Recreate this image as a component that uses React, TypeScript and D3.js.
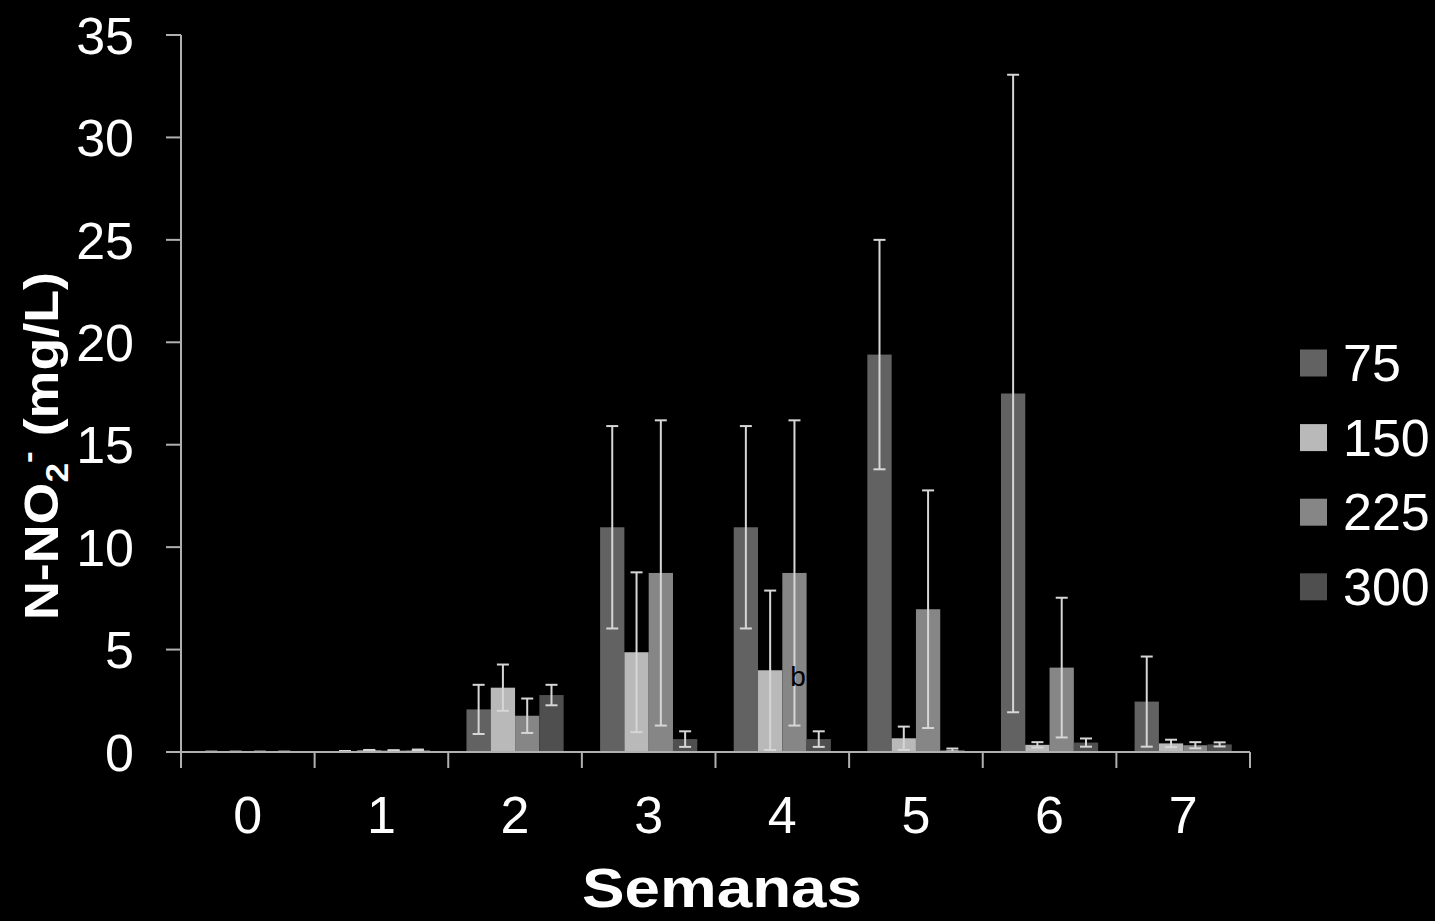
import { useEffect, useRef } from "react";
import * as d3 from "d3";

// weeks on the x axis
const weeks = ["0", "1", "2", "3", "4", "5", "6", "7"];
// series (dose) names and colours
const seriesNames = ["75", "150", "225", "300"];
const seriesColors = ["#626262", "#b9b9b9", "#868686", "#4f4f4f"];

// N-NO2- means (mg/L) per week, one array per series
const mean75 = [0.01, 0.04, 2.08, 10.97, 10.97, 19.4, 17.5, 2.46];
const mean150 = [0.01, 0.08, 3.14, 4.87, 3.99, 0.67, 0.35, 0.42];
const mean225 = [0.01, 0.07, 1.77, 8.74, 8.74, 6.97, 4.12, 0.33];
const mean300 = [0.01, 0.1, 2.78, 0.63, 0.63, 0.1, 0.46, 0.37];

// error (+/-) per week
const err75 = [0.005, 0.01, 1.2, 4.94, 4.94, 5.6, 15.56, 2.2];
const err150 = [0.005, 0.02, 1.13, 3.9, 3.89, 0.57, 0.13, 0.18];
const err225 = [0.005, 0.02, 0.84, 7.45, 7.45, 5.8, 3.41, 0.15];
const err300 = [0.005, 0.02, 0.5, 0.38, 0.38, 0.07, 0.2, 0.1];

const yTicks = [0, 5, 10, 15, 20, 25, 30, 35];

// letter annotation on a bar
const annotations = [{ week: "4", series: "225", text: "b" }];

const App = () => {
    const ref = useRef<SVGSVGElement | null>(null);

    useEffect(() => {
        document.body.style.margin = "0";
        document.body.style.background = "#000";

        const means = [mean75, mean150, mean225, mean300];
        const errs = [err75, err150, err225, err300];

        const svg = d3.select(ref.current);
        svg.selectAll("*").remove();

        const font = "'Liberation Sans', Arial, sans-serif";
        const axisColor = "#b0b0b0";
        const errColor = "#d6d6d6";

        const left = 181;
        const right = 1250;
        const top = 35;
        const bottom = 752;

        const x0 = d3.scaleBand().domain(weeks).range([left, right]).padding(0);
        const bw = x0.bandwidth() / 5.5; // excel gap width 150%
        const x1 = d3.scaleBand().domain(seriesNames).range([0.75 * bw, 4.75 * bw]).padding(0);
        const y = d3.scaleLinear().domain([0, 35]).range([bottom, top]);

        // bars
        const data = weeks.flatMap((w, i) =>
            seriesNames.map((s, j) => ({ week: w, series: s, value: means[j][i], err: errs[j][i], color: seriesColors[j] }))
        );

        svg.append("g")
            .selectAll("rect")
            .data(data)
            .enter().append("rect")
            .attr("x", d => (x0(d.week) as number) + (x1(d.series) as number))
            .attr("y", d => y(d.value))
            .attr("width", x1.bandwidth())
            .attr("height", d => y(0) - y(d.value))
            .attr("fill", d => d.color);

        // error bars
        const eb = svg.append("g")
            .selectAll("g")
            .data(data)
            .enter().append("g")
            .attr("stroke", errColor)
            .attr("stroke-width", 2);
        const cx = (d: any) => (x0(d.week) as number) + (x1(d.series) as number) + x1.bandwidth() / 2;
        eb.append("line")
            .attr("x1", cx).attr("x2", cx)
            .attr("y1", d => y(d.value + d.err))
            .attr("y2", d => y(Math.max(0, d.value - d.err)));
        eb.append("line")
            .attr("x1", d => cx(d) - 6).attr("x2", d => cx(d) + 6)
            .attr("y1", d => y(d.value + d.err)).attr("y2", d => y(d.value + d.err));
        eb.append("line")
            .attr("x1", d => cx(d) - 6).attr("x2", d => cx(d) + 6)
            .attr("y1", d => y(Math.max(0, d.value - d.err))).attr("y2", d => y(Math.max(0, d.value - d.err)));

        // y axis
        const yAxis = svg.append("g");
        yAxis.append("line")
            .attr("x1", left).attr("x2", left)
            .attr("y1", top).attr("y2", bottom)
            .attr("stroke", axisColor).attr("stroke-width", 2);
        yAxis.selectAll(".ytick")
            .data(yTicks)
            .enter().append("line")
            .attr("x1", left - 15).attr("x2", left)
            .attr("y1", d => y(d)).attr("y2", d => y(d))
            .attr("stroke", axisColor).attr("stroke-width", 2);
        yAxis.selectAll(".ylab")
            .data(yTicks)
            .enter().append("text")
            .attr("x", 134)
            .attr("y", d => y(d))
            .attr("dy", "0.36em")
            .attr("text-anchor", "end")
            .attr("fill", "#fff")
            .attr("font-family", font)
            .attr("font-size", "52px")
            .text(d => d);

        // x axis
        const xAxis = svg.append("g");
        xAxis.append("line")
            .attr("x1", left).attr("x2", right)
            .attr("y1", bottom).attr("y2", bottom)
            .attr("stroke", axisColor).attr("stroke-width", 2);
        const bounds = weeks.map(w => x0(w) as number).concat([right]);
        xAxis.selectAll(".xtick")
            .data(bounds)
            .enter().append("line")
            .attr("x1", d => d).attr("x2", d => d)
            .attr("y1", bottom).attr("y2", bottom + 16)
            .attr("stroke", axisColor).attr("stroke-width", 2);
        xAxis.selectAll(".xlab")
            .data(weeks)
            .enter().append("text")
            .attr("x", d => (x0(d) as number) + x0.bandwidth() / 2)
            .attr("y", 833)
            .attr("text-anchor", "middle")
            .attr("fill", "#fff")
            .attr("font-family", font)
            .attr("font-size", "52px")
            .text(d => d);

        // annotations
        svg.selectAll(".ann")
            .data(annotations)
            .enter().append("text")
            .attr("x", d => (x0(d.week) as number) + (x1(d.series) as number) + 8)
            .attr("y", 686)
            .attr("fill", "#000")
            .attr("font-family", font)
            .attr("font-size", "28px")
            .text(d => d.text);

        // axis titles
        svg.append("text")
            .attr("x", 722)
            .attr("y", 907)
            .attr("text-anchor", "middle")
            .attr("fill", "#fff")
            .attr("font-family", font)
            .attr("font-weight", "bold")
            .attr("font-size", "56px")
            .attr("textLength", 280)
            .attr("lengthAdjust", "spacingAndGlyphs")
            .text("Semanas");

        const yTitle = svg.append("text")
            .attr("transform", "translate(58,620) rotate(-90)")
            .attr("x", 0)
            .attr("y", 0)
            .attr("fill", "#fff")
            .attr("font-family", font)
            .attr("font-weight", "bold")
            .attr("font-size", "49px")
            .attr("textLength", 348)
            .attr("lengthAdjust", "spacingAndGlyphs");
        yTitle.append("tspan").text("N-NO");
        yTitle.append("tspan").attr("dy", 10).attr("font-size", "32px").text("2");
        yTitle.append("tspan").attr("dy", -30).attr("font-size", "32px").text("-");
        yTitle.append("tspan").attr("dy", 20).text(" (mg/L)");

        // legend
        const legend = svg.append("g")
            .selectAll("g")
            .data(seriesNames)
            .enter().append("g")
            .attr("transform", (_, i) => `translate(1300, ${363 + i * 74.6})`);
        legend.append("rect")
            .attr("x", 0).attr("y", -13.5)
            .attr("width", 27).attr("height", 27)
            .attr("fill", (_, i) => seriesColors[i]);
        legend.append("text")
            .attr("x", 43)
            .attr("y", 18)
            .attr("fill", "#fff")
            .attr("font-family", font)
            .attr("font-size", "52px")
            .text(d => d);
    }, []);

    return <svg ref={ref} width={1435} height={921} style={{ display: "block", background: "#000" }} />;
};

export default App;
